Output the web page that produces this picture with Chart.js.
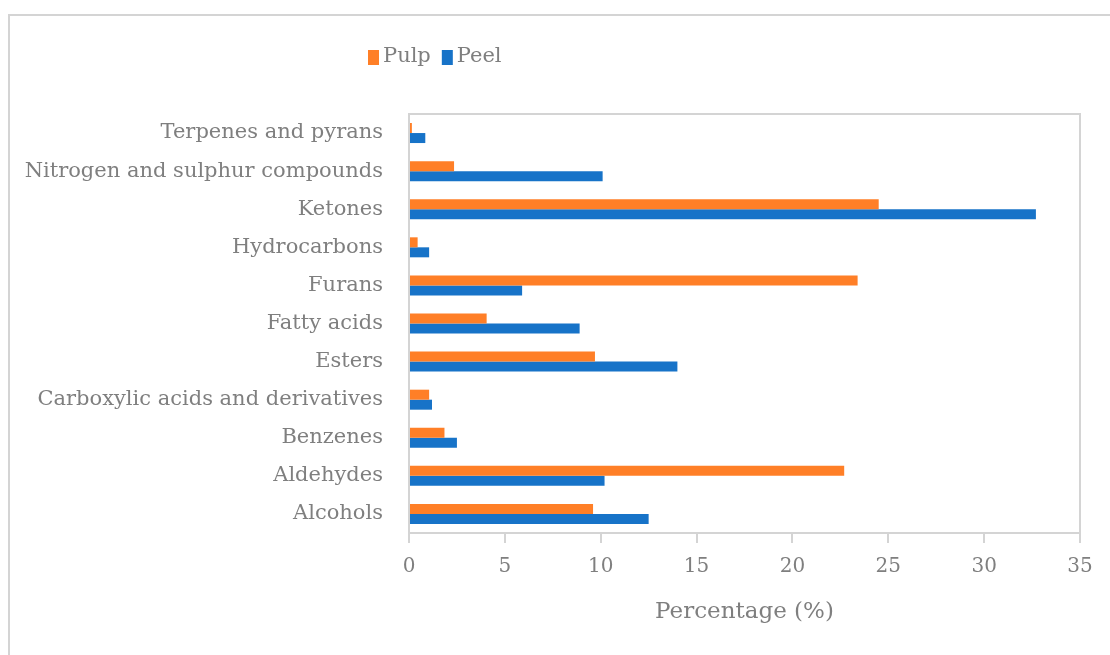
<!DOCTYPE html>
<html>
<head>
<meta charset="utf-8">
<title>Volatile compound classes: pulp vs peel</title>
<script src="https://cdn.jsdelivr.net/npm/chart.js@4.4.1/dist/chart.umd.min.js"></script>
<style>
  html, body { margin: 0; padding: 0; background: #ffffff; }
  #wrap { width: 1110px; height: 655px; position: relative; }
</style>
</head>
<body>
<div id="wrap"><canvas id="chart" width="1110" height="655"></canvas></div>
<script>
// Compound classes, listed top to bottom
const categories = [
  'Terpenes and pyrans',
  'Nitrogen and sulphur compounds',
  'Ketones',
  'Hydrocarbons',
  'Furans',
  'Fatty acids',
  'Esters',
  'Carboxylic acids and derivatives',
  'Benzenes',
  'Aldehydes',
  'Alcohols'
];
// Relative abundance (%)
const pulp = [0.15, 2.35, 24.5, 0.45, 23.4, 4.05, 9.7, 1.05, 1.85, 22.7, 9.6];
const peel = [0.85, 10.1, 32.7, 1.05, 5.9, 8.9, 14.0, 1.2, 2.5, 10.2, 12.5];
const xTicks = [0, 5, 10, 15, 20, 25, 30, 35];

const FONT = "'DejaVu Serif', 'Liberation Serif', serif";
const GREY_TEXT = '#7f7f7f';
const GREY_LINE = '#d4d4d4';
const ORANGE = '#FF7F27';
const BLUE = '#1773C8';

// Outer frame and plot-area frame
const framePlugin = {
  id: 'frames',
  beforeDraw(chart) {
    const ctx = chart.ctx;
    ctx.save();
    ctx.strokeStyle = GREY_LINE;
    ctx.lineWidth = 2;
    ctx.beginPath();
    ctx.moveTo(9, chart.height);
    ctx.lineTo(9, 15);
    ctx.lineTo(chart.width, 15);
    ctx.stroke();
    ctx.restore();
  },
  afterDatasetsDraw(chart) {
    const { ctx, chartArea: a } = chart;
    ctx.save();
    ctx.strokeStyle = GREY_LINE;
    ctx.lineWidth = 2;
    ctx.strokeRect(a.left, a.top, a.right - a.left, a.bottom - a.top);
    ctx.restore();
  }
};

// Legend row drawn above the plot
const legendPlugin = {
  id: 'topLegend',
  afterDraw(chart) {
    const ctx = chart.ctx;
    ctx.save();
    ctx.font = '21px ' + FONT;
    ctx.textBaseline = 'middle';
    let x = 368;
    const y = 57;
    chart.data.datasets.forEach(ds => {
      ctx.fillStyle = ds.backgroundColor;
      ctx.fillRect(x, y - 7, 11, 15);
      ctx.fillStyle = GREY_TEXT;
      ctx.fillText(ds.label, x + 15, y);
      x += 15 + ctx.measureText(ds.label).width + 11;
    });
    ctx.restore();
  }
};

new Chart(document.getElementById('chart'), {
  type: 'bar',
  data: {
    labels: categories,
    datasets: [
      { label: 'Pulp', data: pulp, backgroundColor: ORANGE, borderWidth: 0,
        categoryPercentage: 0.525, barPercentage: 1.0 },
      { label: 'Peel', data: peel, backgroundColor: BLUE, borderWidth: 0,
        categoryPercentage: 0.525, barPercentage: 1.0 }
    ]
  },
  options: {
    indexAxis: 'y',
    responsive: false,
    animation: false,
    devicePixelRatio: 1,
    layout: { padding: { top: 114, right: 30, left: 0, bottom: 0 } },
    plugins: {
      legend: { display: false },
      tooltip: { enabled: false }
    },
    scales: {
      x: {
        type: 'linear',
        min: 0,
        max: 35,
        afterBuildTicks: s => { s.ticks = xTicks.map(v => ({ value: v })); },
        afterFit: s => { s.height = 122; },
        grid: {
          drawOnChartArea: false,
          drawTicks: true,
          tickLength: 10,
          color: GREY_LINE,
          lineWidth: 2
        },
        border: { display: false },
        ticks: {
          padding: 12,
          color: GREY_TEXT,
          font: { family: FONT, size: 20 },
          maxRotation: 0
        },
        title: {
          display: true,
          text: 'Percentage (%)',
          color: GREY_TEXT,
          font: { family: FONT, size: 23 },
          padding: { top: 0, bottom: 29 }
        }
      },
      y: {
        type: 'category',
        afterFit: s => { s.width = 409; },
        grid: { display: false, drawTicks: false },
        border: { display: false },
        ticks: {
          padding: 26,
          color: GREY_TEXT,
          font: { family: FONT, size: 21 }
        }
      }
    }
  },
  plugins: [framePlugin, legendPlugin]
});
</script>
</body>
</html>
